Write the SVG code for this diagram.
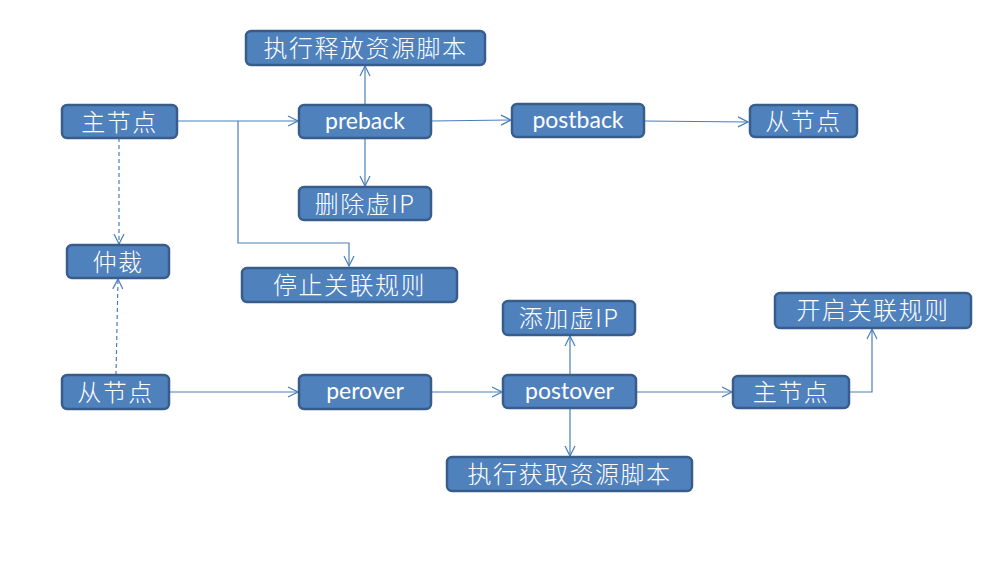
<svg xmlns="http://www.w3.org/2000/svg" width="1000" height="565" viewBox="0 0 1000 565">
<style>
.box{fill:#4F81BD;stroke:#385D8A;stroke-width:2.5}
.cj{font-family:"Noto Sans CJK SC","Noto Sans",sans-serif;font-size:24px;fill:#fff;text-anchor:middle;dominant-baseline:central;letter-spacing:1.5px;font-weight:300}
.la{font-family:Lato,"Open Sans",sans-serif;font-size:23px;fill:#fff;text-anchor:middle;dominant-baseline:central}
.ln{fill:none;stroke:#4A7EBB;stroke-width:1.2}
.ds{stroke-dasharray:4 3}
</style>
<defs>
<marker id="arr" viewBox="0 0 12 12" refX="11" refY="6" markerWidth="12" markerHeight="12" markerUnits="userSpaceOnUse" orient="auto">
<path d="M1,1 L11,6 L1,11" fill="none" stroke="#4A7EBB" stroke-width="1.2"/>
</marker>
</defs>
<g id="connectors">
<line class="ln" x1="177" y1="121" x2="298" y2="121" marker-end="url(#arr)"/>
<polyline class="ln" points="238,121 238,243 349,243 349,266" marker-end="url(#arr)"/>
<line class="ln" x1="365" y1="105" x2="365" y2="66" marker-end="url(#arr)"/>
<line class="ln" x1="365" y1="138" x2="365" y2="186" marker-end="url(#arr)"/>
<line class="ln" x1="431" y1="121" x2="511" y2="120" marker-end="url(#arr)"/>
<line class="ln" x1="644" y1="121" x2="748" y2="122" marker-end="url(#arr)"/>
<line class="ln ds" x1="119" y1="138" x2="119" y2="244" marker-end="url(#arr)"/>
<line class="ln ds" x1="116" y1="375" x2="118" y2="279" marker-end="url(#arr)"/>
<line class="ln" x1="169" y1="392" x2="298" y2="392" marker-end="url(#arr)"/>
<line class="ln" x1="431" y1="392" x2="502" y2="392" marker-end="url(#arr)"/>
<line class="ln" x1="570" y1="375" x2="570" y2="336" marker-end="url(#arr)"/>
<line class="ln" x1="570" y1="408" x2="570" y2="456" marker-end="url(#arr)"/>
<line class="ln" x1="636" y1="392" x2="732" y2="392" marker-end="url(#arr)"/>
<polyline class="ln" points="849,392 872,392 872,329" marker-end="url(#arr)"/>
</g>
<g id="master1"><rect class="box" x="62" y="105" width="115" height="33" rx="5"/><text class="cj" x="119.5" y="120">主节点</text></g>
<g id="releaseScript"><rect class="box" x="246" y="31" width="239" height="34" rx="5"/><text class="cj" x="365.5" y="46">执行释放资源脚本</text></g>
<g id="preback"><rect class="box" x="299" y="105" width="132" height="33" rx="5"/><text class="la" x="365" y="120">preback</text></g>
<g id="postback"><rect class="box" x="512" y="104" width="132" height="33" rx="5"/><text class="la" x="578" y="119">postback</text></g>
<g id="slave1"><rect class="box" x="750" y="105" width="107" height="32" rx="5"/><text class="cj" x="803.5" y="119.5">从节点</text></g>
<g id="delVip"><rect class="box" x="299" y="187" width="132" height="33" rx="5"/><text class="cj" x="365" y="202">删除虚IP</text></g>
<g id="arbiter"><rect class="box" x="67" y="245" width="102" height="33" rx="5"/><text class="cj" x="118" y="260">仲裁</text></g>
<g id="stopRules"><rect class="box" x="242" y="268" width="215" height="34" rx="5"/><text class="cj" x="349.5" y="283">停止关联规则</text></g>
<g id="slave2"><rect class="box" x="62" y="375" width="107" height="34" rx="5"/><text class="cj" x="115.5" y="390">从节点</text></g>
<g id="perover"><rect class="box" x="299" y="375" width="132" height="34" rx="5"/><text class="la" x="365" y="390">perover</text></g>
<g id="addVip"><rect class="box" x="503" y="301" width="132" height="34" rx="5"/><text class="cj" x="569" y="316">添加虚IP</text></g>
<g id="postover"><rect class="box" x="503" y="375" width="133" height="33" rx="5"/><text class="la" x="569.5" y="390">postover</text></g>
<g id="acquireScript"><rect class="box" x="447" y="457" width="245" height="34" rx="5"/><text class="cj" x="569.5" y="472">执行获取资源脚本</text></g>
<g id="master2"><rect class="box" x="733" y="376" width="116" height="32" rx="5"/><text class="cj" x="791" y="390">主节点</text></g>
<g id="startRules"><rect class="box" x="775" y="293" width="196" height="35" rx="5"/><text class="cj" x="873" y="308.5">开启关联规则</text></g>
</svg>
